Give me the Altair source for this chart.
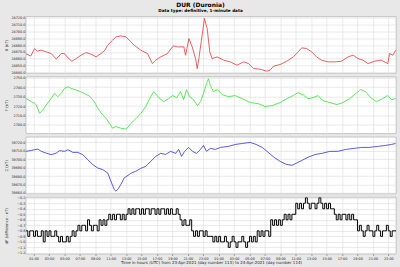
import altair as alt
import pandas as pd

# ---------------- data ----------------
x_hours = [0.0, 0.62, 1.14, 1.48, 2.0, 2.65, 3.29, 3.94, 4.58, 5.0, 5.45, 5.96, 6.52, 7.16, 7.81, 8.45, 9.1, 9.74,
           10.26, 10.6, 11.25, 11.68, 12.32, 12.97, 13.39, 13.61, 14.04, 14.9, 15.77, 16.41, 16.84, 17.48, 18.35,
           19.12, 19.64, 20.49, 20.71, 21.14, 21.57, 22.0, 22.22, 22.43, 22.86, 23.16, 23.51, 23.85, 24.15, 24.8,
           25.65, 26.52, 27.38, 28.23, 28.88, 29.52, 30.39, 31.25, 31.68, 32.1, 32.97, 33.83, 34.68, 35.12, 35.77,
           36.41, 37.06, 37.7, 38.35, 39.2, 40.06, 40.93, 41.78, 42.43, 43.07, 43.72, 44.36, 45.23, 46.09, 46.94,
           47.16, 47.59, 47.95]
x_nT = [24667.7, 24663.9, 24675.0, 24671.2, 24672.6, 24670.1, 24667.7, 24659.5, 24667.7, 24667.7, 24661.4,
        24656.5, 24660.3, 24665.3, 24669.1, 24666.8, 24662.8, 24667.7, 24672.6, 24679.9, 24687.2, 24692.1,
        24693.5, 24692.1, 24687.2, 24684.8, 24679.9, 24672.6, 24667.7, 24653.0, 24658.0, 24662.8, 24667.7,
        24678.9, 24677.4, 24677.4, 24665.3, 24689.6, 24677.4, 24660.3, 24645.7, 24660.3, 24694.6, 24719.0,
        24704.2, 24670.1, 24660.3, 24662.8, 24658.0, 24655.5, 24650.7, 24655.5, 24653.0, 24645.7, 24644.8,
        24641.9, 24643.4, 24649.2, 24651.6, 24656.5, 24662.8, 24667.7, 24676.0, 24675.0, 24670.1, 24662.8,
        24658.0, 24655.5, 24655.5, 24656.5, 24662.8, 24665.3, 24660.3, 24658.0, 24653.0, 24656.5, 24658.0,
        24653.0, 24667.7, 24665.3, 24672.6]

y_hours = [0.0, 0.71, 1.14, 1.35, 1.78, 2.22, 2.65, 3.29, 3.72, 4.15, 4.58, 5.01, 5.45, 5.87, 6.52, 7.38, 8.23,
           8.88, 9.32, 9.96, 10.39, 10.81, 11.25, 11.68, 12.32, 12.97, 13.39, 13.61, 14.26, 14.9, 15.55, 16.19,
           16.58, 17.23, 17.87, 18.52, 19.03, 19.55, 20.06, 20.45, 20.84, 21.23, 21.74, 22.26, 22.65, 23.03,
           23.42, 23.68, 23.94, 24.32, 24.84, 25.48, 26.26, 27.16, 28.06, 29.1, 30.13, 31.03, 31.94, 32.97,
           33.87, 34.65, 35.29, 35.94, 36.58, 37.23, 37.87, 38.52, 39.42, 40.32, 41.1, 42.0, 42.77, 43.42,
           44.06, 44.71, 45.48, 46.26, 46.9, 47.42, 47.94]
y_nT = [2728.2, 2724.7, 2722.9, 2721.3, 2712.4, 2716.0, 2721.3, 2728.2, 2733.5, 2730.0, 2733.5, 2738.7, 2740.5,
        2738.7, 2737.1, 2734.2, 2730.7, 2724.7, 2717.7, 2710.7, 2707.2, 2701.9, 2696.6, 2698.4, 2696.6, 2695.6,
        2699.2, 2701.6, 2706.8, 2712.1, 2719.5, 2730.0, 2735.3, 2728.9, 2724.7, 2727.9, 2731.1, 2728.9, 2735.3,
        2726.8, 2737.4, 2730.0, 2726.8, 2720.5, 2724.7, 2733.2, 2743.7, 2748.9, 2741.6, 2735.3, 2737.4, 2732.1,
        2730.0, 2731.1, 2727.9, 2723.7, 2722.6, 2719.5, 2720.5, 2723.7, 2727.9, 2731.1, 2734.2, 2732.1, 2727.9,
        2728.9, 2731.1, 2725.8, 2723.7, 2721.6, 2723.7, 2727.9, 2733.2, 2737.4, 2735.3, 2728.9, 2724.7, 2727.9,
        2731.1, 2726.8, 2727.9]

z_hours = [0.0, 0.71, 1.14, 1.57, 2.0, 2.65, 3.29, 3.94, 4.36, 5.01, 5.45, 6.09, 6.74, 7.38, 8.03, 8.67, 9.32,
           9.96, 10.61, 11.03, 11.46, 11.68, 11.97, 12.32, 12.75, 13.39, 13.61, 14.26, 14.9, 15.55, 16.19, 16.84,
           17.48, 18.13, 18.77, 19.42, 19.81, 20.19, 20.58, 21.1, 21.61, 22.13, 22.65, 23.03, 23.42, 23.94, 24.58,
           25.23, 26.26, 27.16, 28.06, 29.1, 29.87, 30.65, 31.42, 32.19, 32.97, 33.74, 34.52, 35.29, 36.06, 36.84,
           37.61, 38.39, 39.42, 40.45, 41.48, 42.52, 43.55, 44.58, 45.61, 46.65, 47.42, 47.94]
z_nT = [39709.4, 39710.5, 39711.4, 39712.1, 39709.4, 39707.3, 39705.4, 39707.3, 39710.2, 39709.4, 39711.4,
        39708.2, 39708.2, 39705.4, 39699.5, 39693.6, 39689.6, 39687.7, 39683.7, 39673.9, 39664.0, 39662.0,
        39664.8, 39670.0, 39677.8, 39681.8, 39683.3, 39685.7, 39689.2, 39691.6, 39697.5, 39703.4, 39707.0,
        39705.8, 39709.4, 39707.0, 39711.7, 39703.4, 39709.4, 39714.1, 39709.4, 39707.0, 39711.7, 39716.5,
        39709.4, 39712.9, 39711.7, 39714.1, 39715.3, 39717.6, 39718.8, 39720.0, 39717.6, 39714.1, 39708.2,
        39702.3, 39697.5, 39694.0, 39692.8, 39696.3, 39699.9, 39703.4, 39705.8, 39707.0, 39709.4, 39709.4,
        39711.7, 39712.9, 39714.1, 39714.1, 39715.3, 39716.5, 39717.6, 39718.8]

# F difference, one reading per quarter hour
df_diff = [-0.8, -0.9, -0.8, -0.8, -0.9, -0.8, -0.9, -0.9, -0.8, -1.0, -0.8, -0.9, -0.8, -0.9, -0.9, -0.8,
           -0.9, -1.0, -0.9, -1.0, -1.0, -0.9, -1.0, -0.9,
           -0.8, -0.9, -0.8,
           -0.7, -0.8, -0.7, -0.7, -0.8, -0.6, -0.7, -0.8, -0.7, -0.7, -0.8,
           -0.6, -0.7, -0.6, -0.7, -0.6,
           -0.5, -0.6, -0.5, -0.6, -0.5, -0.5, -0.6, -0.5, -0.6, -0.5,
           -0.4, -0.5, -0.4, -0.5, -0.4, -0.4, -0.5, -0.4, -0.5, -0.4, -0.4, -0.5, -0.4, -0.4, -0.5, -0.4,
           -0.5, -0.4, -0.4, -0.5, -0.4, -0.5, -0.4, -0.5, -0.5, -0.4, -0.5,
           -0.6, -0.7, -0.6, -0.7, -0.7, -0.6,
           -0.8, -0.9, -0.8, -0.9, -0.8, -0.8, -0.9, -0.8, -0.9, -0.9,
           -0.9, -1.0, -0.9, -1.0, -0.9, -1.0, -1.0, -0.9,
           -1.0, -1.1, -1.0, -0.9, -1.0, -1.1, -1.0, -1.0, -0.9, -1.0, -1.1, -1.0,
           -0.9, -1.0, -0.9, -1.0,
           -0.8, -0.9, -0.8, -0.9, -0.8, -0.8, -0.9,
           -0.6, -0.7, -0.6, -0.7, -0.6, -0.7, -0.6,
           -0.5, -0.6, -0.5, -0.6, -0.5, -0.5,
           -0.3, -0.4, -0.3, -0.4, -0.3, -0.2, -0.3, -0.4, -0.3, -0.3, -0.4, -0.3, -0.2, -0.3, -0.4, -0.3,
           -0.4, -0.3, -0.4, -0.4,
           -0.5, -0.6, -0.5, -0.6, -0.5, -0.5, -0.6, -0.5, -0.6, -0.5, -0.6, -0.6,
           -0.8, -0.7, -0.8, -0.9, -0.8, -0.7, -0.8, -0.8, -0.9, -0.8, -0.7, -0.8, -0.9, -0.8, -0.8, -0.7,
           -0.8, -0.9, -0.8, -0.8, -0.8]
df_hours = [i * 0.25 for i in range(len(df_diff))]

x_ticks = [24720, 24710, 24700, 24690, 24680, 24670, 24660, 24650, 24640]
y_ticks = [2750, 2740, 2730, 2720, 2710, 2700]
z_ticks = [39720, 39710, 39700, 39690, 39680, 39670, 39660]
f_ticks = [-0.2, -0.3, -0.4, -0.5, -0.6, -0.7, -0.8, -0.9, -1.0, -1.1, -1.2]
hour_ticks = [1, 3, 5, 7, 9, 11, 13, 15, 17, 19, 21, 23, 25, 27, 29, 31, 33, 35, 37, 39, 41, 43, 45, 47]

X_TITLE = "Time in hours (UTC) from 23-Apr-2021 (day number 113) to 24-Apr-2021 (day number 114)"
FONT = "DejaVu Sans"
W, H = 372, 57
GRID = "#dcdcdc"


def panel(df, field, color, domain, ticks, ytitle, bottom=False, step=False, ylabel_expr=None, sw=0.8):
    xaxis_kw = dict(values=hour_ticks, grid=True, gridColor=GRID, gridWidth=0.6, domain=False,
                    labels=bottom, ticks=bottom)
    if bottom:
        xaxis_kw.update(
            labelExpr="(datum.value % 24 < 10 ? '0' : '') + (datum.value % 24) + ':00'",
            labelFontSize=3.4, labelFont=FONT, labelColor="#222222", labelPadding=1,
            tickSize=1.5, tickColor="#888888",
            title=X_TITLE, titleFontSize=4, titleFont=FONT, titleFontWeight="normal",
            titleColor="#222222", titlePadding=1)
    else:
        xaxis_kw.update(title=None)
    yaxis_kw = dict(values=ticks, grid=True, gridColor=GRID, gridWidth=0.6, domain=False, ticks=False,
                    labelFontSize=3.4, labelFont=FONT, labelColor="#222222", labelPadding=1,
                    title=ytitle, titleFontSize=3.8, titleFont=FONT, titleFontWeight="normal",
                    titleColor="#222222", titleX=-19, titleY=H / 2, titleBaseline="middle",
                    titleAlign="center")
    if ylabel_expr:
        yaxis_kw["labelExpr"] = ylabel_expr
    else:
        yaxis_kw["format"] = ".1f"
    mark_kw = dict(color=color, strokeWidth=sw, clip=True)
    if step:
        mark_kw["interpolate"] = "step-after"
    return alt.Chart(df).mark_line(**mark_kw).encode(
        x=alt.X("h:Q", scale=alt.Scale(domain=[0, 48], nice=False, zero=False), axis=alt.Axis(**xaxis_kw)),
        y=alt.Y(f"{field}:Q", scale=alt.Scale(domain=domain, nice=False, zero=False), axis=alt.Axis(**yaxis_kw)),
    ).properties(width=W, height=H)


p1 = panel(pd.DataFrame({"h": x_hours, "v": x_nT}), "v", "#e03a3a", [24638.8, 24721.7], x_ticks, "X (nT)")
p2 = panel(pd.DataFrame({"h": y_hours, "v": y_nT}), "v", "#33e033", [2691.0, 2751.0], y_ticks, "Y (nT)")
p3 = panel(pd.DataFrame({"h": z_hours, "v": z_nT}), "v", "#3030e0", [39659.0, 39726.5], z_ticks, "Z (nT)")
p4 = panel(pd.DataFrame({"h": df_hours, "v": df_diff}), "v", "#000000", [-1.218, -0.19], f_ticks,
           "dF (difference - nT)", bottom=True, step=True,
           ylabel_expr="replace(format(datum.value, '.1f'), '-0.', '-.')", sw=1.0)

chart = alt.vconcat(p1, p2, p3, p4, spacing=3.5, bounds="flush").properties(
    title=alt.TitleParams(
        text="DUR (Duronia)", subtitle="Data type: definitive, 1-minute data",
        font=FONT, subtitleFont=FONT, fontSize=6, subtitleFontSize=4.2,
        fontWeight="bold", subtitleFontWeight="bold", color="black", subtitleColor="black",
        anchor="middle", frame="bounds", offset=2, subtitlePadding=1),
    background="#e8e8e8",
    padding={"left": 4, "top": 1, "right": 3, "bottom": 2},
).configure_view(fill="white", stroke="#a8a8a8", strokeWidth=0.6)

chart.save("out.html", embed_options={"renderer": "svg", "actions": False})
